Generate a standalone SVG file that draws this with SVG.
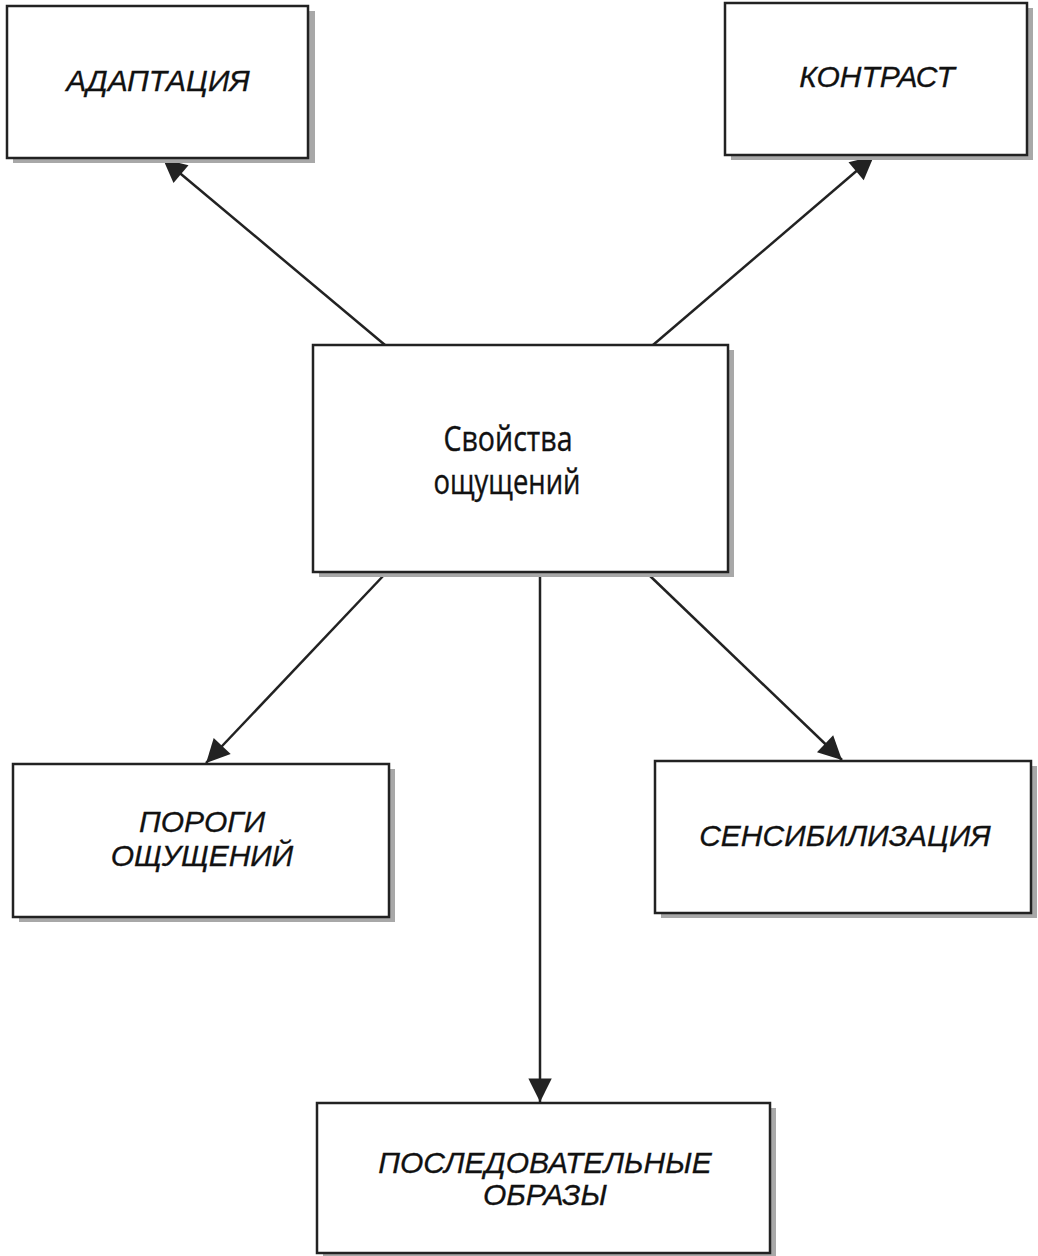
<svg xmlns="http://www.w3.org/2000/svg" width="1038" height="1256" viewBox="0 0 1038 1256">
<style>
.box{fill:#fff;stroke:#222;stroke-width:2.5}
.sh{fill:#a8a8a8}
.t{font-family:"Liberation Sans",Arial,sans-serif;font-style:italic;font-size:30px;fill:#111;stroke:#111;stroke-width:0.3;text-anchor:middle}
.c{font-family:"Open Sans","Noto Sans",sans-serif;font-size:34px;fill:#111;stroke:#111;stroke-width:0.4;text-anchor:middle}
.ln{stroke:#222;stroke-width:2.5;fill:none;marker-end:url(#ah)}
</style>
<defs>
<marker id="ah" viewBox="0 0 10 10" refX="10" refY="5" markerWidth="9" markerHeight="9" markerUnits="userSpaceOnUse" orient="auto" overflow="visible">
<path d="M0,0 L10,5 L0,10 z" fill="#222" transform="scale(2.6) translate(-6.2,-3.1)"/>
</marker>
</defs>
<rect width="1038" height="1256" fill="#fff"/>
<g id="connectors">
<line class="ln" x1="385" y1="345" x2="163" y2="159"/>
<line class="ln" x1="653" y1="345" x2="874" y2="156"/>
<line class="ln" x1="385" y1="574" x2="206" y2="763"/>
<line class="ln" x1="540" y1="574" x2="540" y2="1102"/>
<line class="ln" x1="648" y1="574" x2="842" y2="760"/>
</g>
<g id="adaptation">
<rect class="sh" x="13" y="11" width="302" height="152"/>
<rect class="box" x="7" y="6" width="301" height="152"/>
<text class="t" x="158" y="91">АДАПТАЦИЯ</text>
</g>
<g id="contrast">
<rect class="sh" x="731" y="8" width="302" height="152"/>
<rect class="box" x="725" y="3" width="302" height="152"/>
<text class="t" x="877" y="87">КОНТРАСТ</text>
</g>
<g id="center">
<rect class="sh" x="319" y="350" width="415" height="227"/>
<rect class="box" x="313" y="345" width="415" height="227"/>
<text class="c" x="508" y="451" textLength="129" lengthAdjust="spacingAndGlyphs">Свойства</text>
<text class="c" x="507" y="494" textLength="147" lengthAdjust="spacingAndGlyphs">ощущений</text>
</g>
<g id="thresholds">
<rect class="sh" x="19" y="769" width="376" height="153"/>
<rect class="box" x="13" y="764" width="376" height="153"/>
<text class="t" x="202" y="832">ПОРОГИ</text>
<text class="t" x="202" y="866">ОЩУЩЕНИЙ</text>
</g>
<g id="sensitization">
<rect class="sh" x="661" y="766" width="376" height="152"/>
<rect class="box" x="655" y="761" width="376" height="152"/>
<text class="t" x="845" y="846">СЕНСИБИЛИЗАЦИЯ</text>
</g>
<g id="afterimages">
<rect class="sh" x="323" y="1108" width="453" height="152"/>
<rect class="box" x="317" y="1103" width="453" height="150"/>
<text class="t" x="545" y="1173">ПОСЛЕДОВАТЕЛЬНЫЕ</text>
<text class="t" x="545" y="1205">ОБРАЗЫ</text>
</g>
</svg>
